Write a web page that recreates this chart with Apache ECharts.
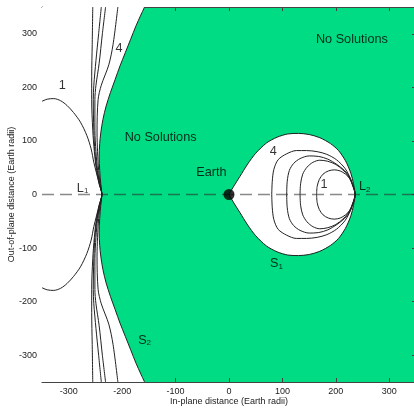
<!DOCTYPE html>
<html>
<head>
<meta charset="utf-8">
<script src="https://cdn.jsdelivr.net/npm/echarts@6/dist/echarts.min.js"></script>
</head>
<body style="margin:0">
<div id="main" style="width:414px;height:408px"></div>
<script>
var xTicks = [-300, -200, -100, 0, 100, 200, 300];
var yTicks = [-300, -200, -100, 0, 100, 200, 300];

// upper halves (y >= 0), lower half is the mirror image
var s2Upper = [[-238,0],[-240,20],[-242,45],[-243,70],[-242,95],[-240,115],[-236,140],[-230,165],[-222,190],[-213,215],[-204,240],[-194,265],[-184,290],[-174,315],[-165,335],[-158,350]];
var left1Upper = [[-238,0],[-243,20],[-248,40],[-253,60],[-258,85],[-266,110],[-278,135],[-291,153],[-303,166],[-315,175],[-328,179],[-340,178],[-350,174]];
var left2Upper = [[-238,0],[-243,20],[-248,45],[-252,80],[-255,120],[-257,177],[-257,220],[-256,280],[-255,350]];
var left3Upper = [[-238,0],[-242,20],[-247,45],[-251,80],[-253,120],[-254,177],[-253,204],[-249,250],[-244,300],[-239,350]];
var left4Upper = [[-238,0],[-242,20],[-246,45],[-249,80],[-251,120],[-251,177],[-249,204],[-243,245],[-237,300],[-231,350]];
var left5Upper = [[-238,0],[-241,20],[-244,45],[-246,80],[-247,115],[-245,177],[-239,204],[-225,242],[-217,280],[-208,350]];

var s1Upper = [[0,0],[8,14],[20,33],[35,57],[50,77],[70,96],[90,107],[110,113],[130,114],[150,112],[170,106],[190,95],[205,82],[218,63],[228,40],[233,20],[236,0]];
var lobe4Upper = [[80,0],[81,25],[84,47],[92,65],[108,76],[126,82],[145,82],[165,80],[183,75],[201,65],[217,49],[225,35],[231,20],[236,0]];
var lobe3Upper = [[108,0],[109,25],[113,45],[121,58],[133,67],[150,72],[168,71],[185,66],[202,56],[216,45],[225,34],[231,20],[236,0]];
var lobe2Upper = [[133,0],[134,20],[138,38],[146,51],[157,60],[170,64],[185,62],[200,56],[213,46],[222,36],[230,21],[236,0]];
var lobe1Upper = [[164,0],[165,15],[169,28],[176,38],[186,44],[197,46],[208,44],[218,38],[226,30],[231,18],[236,0]];

var earth = [[0, 0]];
var notes = [
  ['No Solutions', 230, 289],
  ['No Solutions', -128, 106],
  ['Earth', -33, 42],
  ['1', -312, 204],
  ['4', -206, 273],
  ['L{s|1}', -274, 12],
  ['4', 83, 81],
  ['1', 178, 18],
  ['L{s|2}', 254, 15],
  ['S{s|1}', 89, -129],
  ['S{s|2}', -158, -272]
];

function flip(pts) {
  return pts.map(function (p) { return [p[0], -p[1]]; });
}
// open curve: top -> L1 -> bottom
function openCurve(up) {
  return up.slice().reverse().concat(flip(up.slice(1)));
}
// closed loop: upper side then lower side back
function loop(up) {
  return up.concat(flip(up.slice(0, -1)).reverse());
}

var leftRegion = [[-350, 350]].concat(openCurve(s2Upper), [[-350, -350]]);
var lobeRegion = loop(s1Upper);
var regions = [leftRegion, lobeRegion];

var curves = [
  openCurve(s2Upper), openCurve(left1Upper), openCurve(left2Upper),
  openCurve(left3Upper), openCurve(left4Upper), openCurve(left5Upper),
  loop(s1Upper), loop(lobe4Upper), loop(lobe3Upper), loop(lobe2Upper), loop(lobe1Upper)
];

var green = '#00dc84';
var ink = '#222';
var frame = '#444';

function axisX(pos, labels) {
  return {
    type: 'value', min: -350, max: 350, position: pos,
    axisLine: { show: true, onZero: false, lineStyle: { color: frame } },
    axisTick: { show: true, inside: true, length: 4, customValues: xTicks, lineStyle: { color: frame } },
    axisLabel: { show: labels, customValues: xTicks, fontSize: 9, color: ink, margin: 5 },
    splitLine: { show: false }
  };
}
function axisY(pos, labels) {
  return {
    type: 'value', min: -350, max: 350, position: pos,
    axisLine: { show: true, onZero: false, lineStyle: { color: frame } },
    axisTick: { show: true, inside: true, length: 4, customValues: yTicks, lineStyle: { color: frame } },
    axisLabel: { show: labels, customValues: yTicks, fontSize: 9, color: ink, margin: 5 },
    splitLine: { show: false }
  };
}

var xMain = axisX('bottom', true);
xMain.name = 'In-plane distance (Earth radii)';
xMain.nameLocation = 'middle';
xMain.nameGap = 15;
xMain.nameMoveOverlap = false;
xMain.nameTextStyle = { fontSize: 9, color: ink };
var yMain = axisY('left', true);
yMain.name = 'Out-of-plane distance (Earth radii)';
yMain.nameLocation = 'middle';
yMain.nameGap = 26;
yMain.nameMoveOverlap = false;
yMain.nameTextStyle = { fontSize: 9, color: ink };

var series = [];
series.push({
  type: 'custom',
  data: [[0, 0], [1, 0]],
  silent: true,
  renderItem: function (params, api) {
    var pts = regions[params.dataIndex].map(function (p) { return api.coord(p); });
    return { type: 'polygon', shape: { points: pts }, style: { fill: '#fff' } };
  },
  z: 1
});
series.push({
  type: 'line',
  data: [[-350, 0], [350, 0]],
  showSymbol: false,
  silent: true,
  lineStyle: { color: 'rgba(40,40,40,0.55)', width: 1.5, type: [12, 6] },
  z: 2
});
curves.forEach(function (c) {
  series.push({
    type: 'line', data: c, showSymbol: false, silent: true, smooth: 0.3,
    lineStyle: { color: ink, width: 1 }, z: 3
  });
});
series.push({
  type: 'scatter', data: earth, symbolSize: 11, itemStyle: { color: '#000' }, z: 4
});
series.push({
  type: 'scatter',
  data: notes.map(function (n) { return [n[1], n[2], n[0]]; }),
  symbolSize: 0,
  z: 5,
  label: {
    show: true, position: 'inside', color: '#000', fontSize: 12.7,
    formatter: function (p) { return p.data[2]; },
    rich: { s: { fontSize: 8, color: '#000', verticalAlign: 'bottom', padding: [6, 0, 0, 0] } }
  }
});

var chart = echarts.init(document.getElementById('main'));
chart.setOption({
  animation: false,
  textStyle: { fontFamily: 'Arial, "Liberation Sans", sans-serif' },
  grid: { left: 42, right: -2, top: 7, bottom: 26, show: true, backgroundColor: green, borderWidth: 0, outerBoundsMode: 'none' },
  xAxis: [xMain, axisX('top', false)],
  yAxis: [yMain, axisY('right', false)],
  series: series
});
</script>
</body>
</html>
